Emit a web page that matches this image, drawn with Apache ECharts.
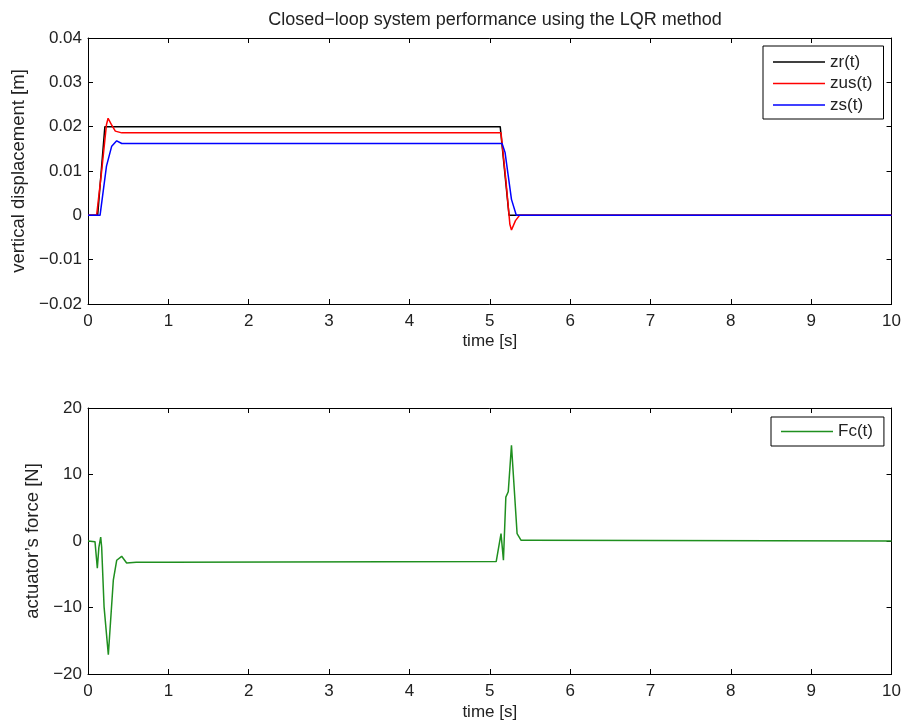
<!DOCTYPE html>
<html><head><meta charset="utf-8">
<script src="https://cdn.jsdelivr.net/npm/echarts@6/dist/echarts.min.js"></script>
<style>html,body{margin:0;padding:0;background:#fff}#c{width:904px;height:722px}</style>
</head><body><div id="c"></div>
<script>
// ---- data ----
const titleText = 'Closed\u2212loop system performance using the LQR method';
const zrT   = [0, 0.12, 0.21, 5.13, 5.24, 10];
const zrV   = [0, 0, 0.020, 0.020, 0, 0];
const zusT  = [0, 0.107, 0.17, 0.23, 0.25, 0.29, 0.34, 0.42, 5.14, 5.20, 5.25, 5.27, 5.32, 5.37, 10];
const zusV  = [0, 0, 0.010, 0.0205, 0.0219, 0.0205, 0.019, 0.0186, 0.0186, 0.008, -0.002, -0.0033, -0.0012, 0, 0];
const zsT   = [0, 0.15, 0.23, 0.295, 0.357, 0.42, 5.153, 5.19, 5.23, 5.27, 5.33, 10];
const zsV   = [0, 0, 0.0111, 0.0156, 0.0168, 0.0162, 0.0162, 0.0142, 0.0089, 0.0036, 0, 0];
const fcT   = [0, 0.087, 0.116, 0.135, 0.158, 0.17, 0.2, 0.253, 0.315, 0.357, 0.419, 0.481, 0.6, 1.0, 1.02, 5.08, 5.1, 5.14, 5.17, 5.2, 5.23, 5.27, 5.34, 5.39, 5.5, 10];
const fcV   = [0, -0.1, -4.1, -1.0, 0.6, -0.9, -9.9, -17.1, -5.9, -2.9, -2.3, -3.3, -3.2, -3.2, -3.1, -3.1, -3.1, 1.1, -2.9, 6.6, 7.4, 14.4, 1.1, 0.1, 0.1, 0];
const xTicks = [0, 1, 2, 3, 4, 5, 6, 7, 8, 9, 10];
const topYTicks = [-0.02, -0.01, 0, 0.01, 0.02, 0.03, 0.04];
const botYTicks = [-20, -10, 0, 10, 20];

const pairs = (t, v) => t.map((x, i) => [x, v[i]]);
const FONT = '"Liberation Sans", Arial, Helvetica, sans-serif';
const FS = 17;
const TXT = '#222';
const minus = s => String(s).replace('-', '\u2212');
const fmtTop = v => Math.abs(v) < 1e-9 ? '0' : minus(v.toFixed(2));
const fmtBot = v => Math.abs(v) < 1e-9 ? '0' : minus(Math.round(v));

const axLine = {show: true, onZero: false, lineStyle: {color: '#000', width: 1}};
const tick = {show: true, inside: true, length: 5, lineStyle: {color: '#000'}};
const lbl = {color: TXT, fontSize: FS, fontFamily: FONT};

function xAx(grid, pos, showLbl, gap) {
  return {type: 'value', gridIndex: grid, position: pos, min: xTicks[0], max: xTicks[xTicks.length-1],
    interval: xTicks[1]-xTicks[0], axisLine: axLine, axisTick: tick, splitLine: {show: false},
    axisLabel: Object.assign({show: showLbl, margin: 9}, lbl),
    name: showLbl ? 'time [s]' : '', nameLocation: 'middle', nameGap: gap || 0,
    nameTextStyle: {color: TXT, fontSize: FS, fontFamily: FONT}};
}
function yAx(grid, pos, ticks, fmt, name, gap) {
  return {type: 'value', gridIndex: grid, position: pos, min: ticks[0], max: ticks[ticks.length-1],
    interval: ticks[1]-ticks[0], axisLine: axLine, axisTick: tick, splitLine: {show: false},
    axisLabel: Object.assign({show: pos === 'left', margin: 6, formatter: fmt}, lbl),
    name: pos === 'left' ? name : '', nameLocation: 'middle', nameGap: gap,
    nameTextStyle: {color: TXT, fontSize: 18.5, fontFamily: FONT}};
}
function line(name, t, v, color, xi, yi) {
  return {type: 'line', name: name, data: pairs(t, v), xAxisIndex: xi, yAxisIndex: yi,
    symbol: 'none', showSymbol: false, lineStyle: {color: color, width: 1.5}, itemStyle: {color: color},
    animation: false};
}
const legendBase = {orient: 'vertical', icon: 'rect', itemWidth: 52, itemHeight: 1.5, itemGap: 4.5,
  borderColor: '#000', borderWidth: 1, backgroundColor: '#fff', borderRadius: 0,
  textStyle: {color: TXT, fontSize: FS, fontFamily: FONT}};

const chart = echarts.init(document.getElementById('c'), null, {renderer: 'canvas'});
chart.setOption({
  animation: false,
  title: {text: titleText, left: 490, top: 6, textAlign: 'center',
    textStyle: {color: TXT, fontSize: 18, fontWeight: 'normal', fontFamily: FONT}},
  grid: [
    {left: 88, top: 38, width: 804, height: 266},
    {left: 88, top: 408, width: 804, height: 266}
  ],
  xAxis: [xAx(0, 'bottom', true, 28.5), xAx(0, 'top', false), xAx(1, 'bottom', true, 29.5), xAx(1, 'top', false)],
  yAxis: [
    yAx(0, 'left', topYTicks, fmtTop, 'vertical displacement [m]', 57.5),
    yAx(0, 'right', topYTicks, fmtTop, '', 0),
    yAx(1, 'left', botYTicks, fmtBot, 'actuator\u2019s force [N]', 42.5),
    yAx(1, 'right', botYTicks, fmtBot, '', 0)
  ],
  legend: [
    Object.assign({}, legendBase, {data: ['zr(t)', 'zus(t)', 'zs(t)'], left: 763, top: 46, padding: [7.5, 11, 5.5, 10]}),
    Object.assign({}, legendBase, {data: ['Fc(t)'], left: 771, top: 417, padding: [6, 11, 6, 10]})
  ],
  series: [
    line('zr(t)', zrT, zrV, '#000000', 0, 0),
    line('zus(t)', zusT, zusV, '#ff0000', 0, 0),
    line('zs(t)', zsT, zsV, '#0000ff', 0, 0),
    line('Fc(t)', fcT, fcV, '#1f8f1f', 2, 2)
  ]
});
</script></body></html>
